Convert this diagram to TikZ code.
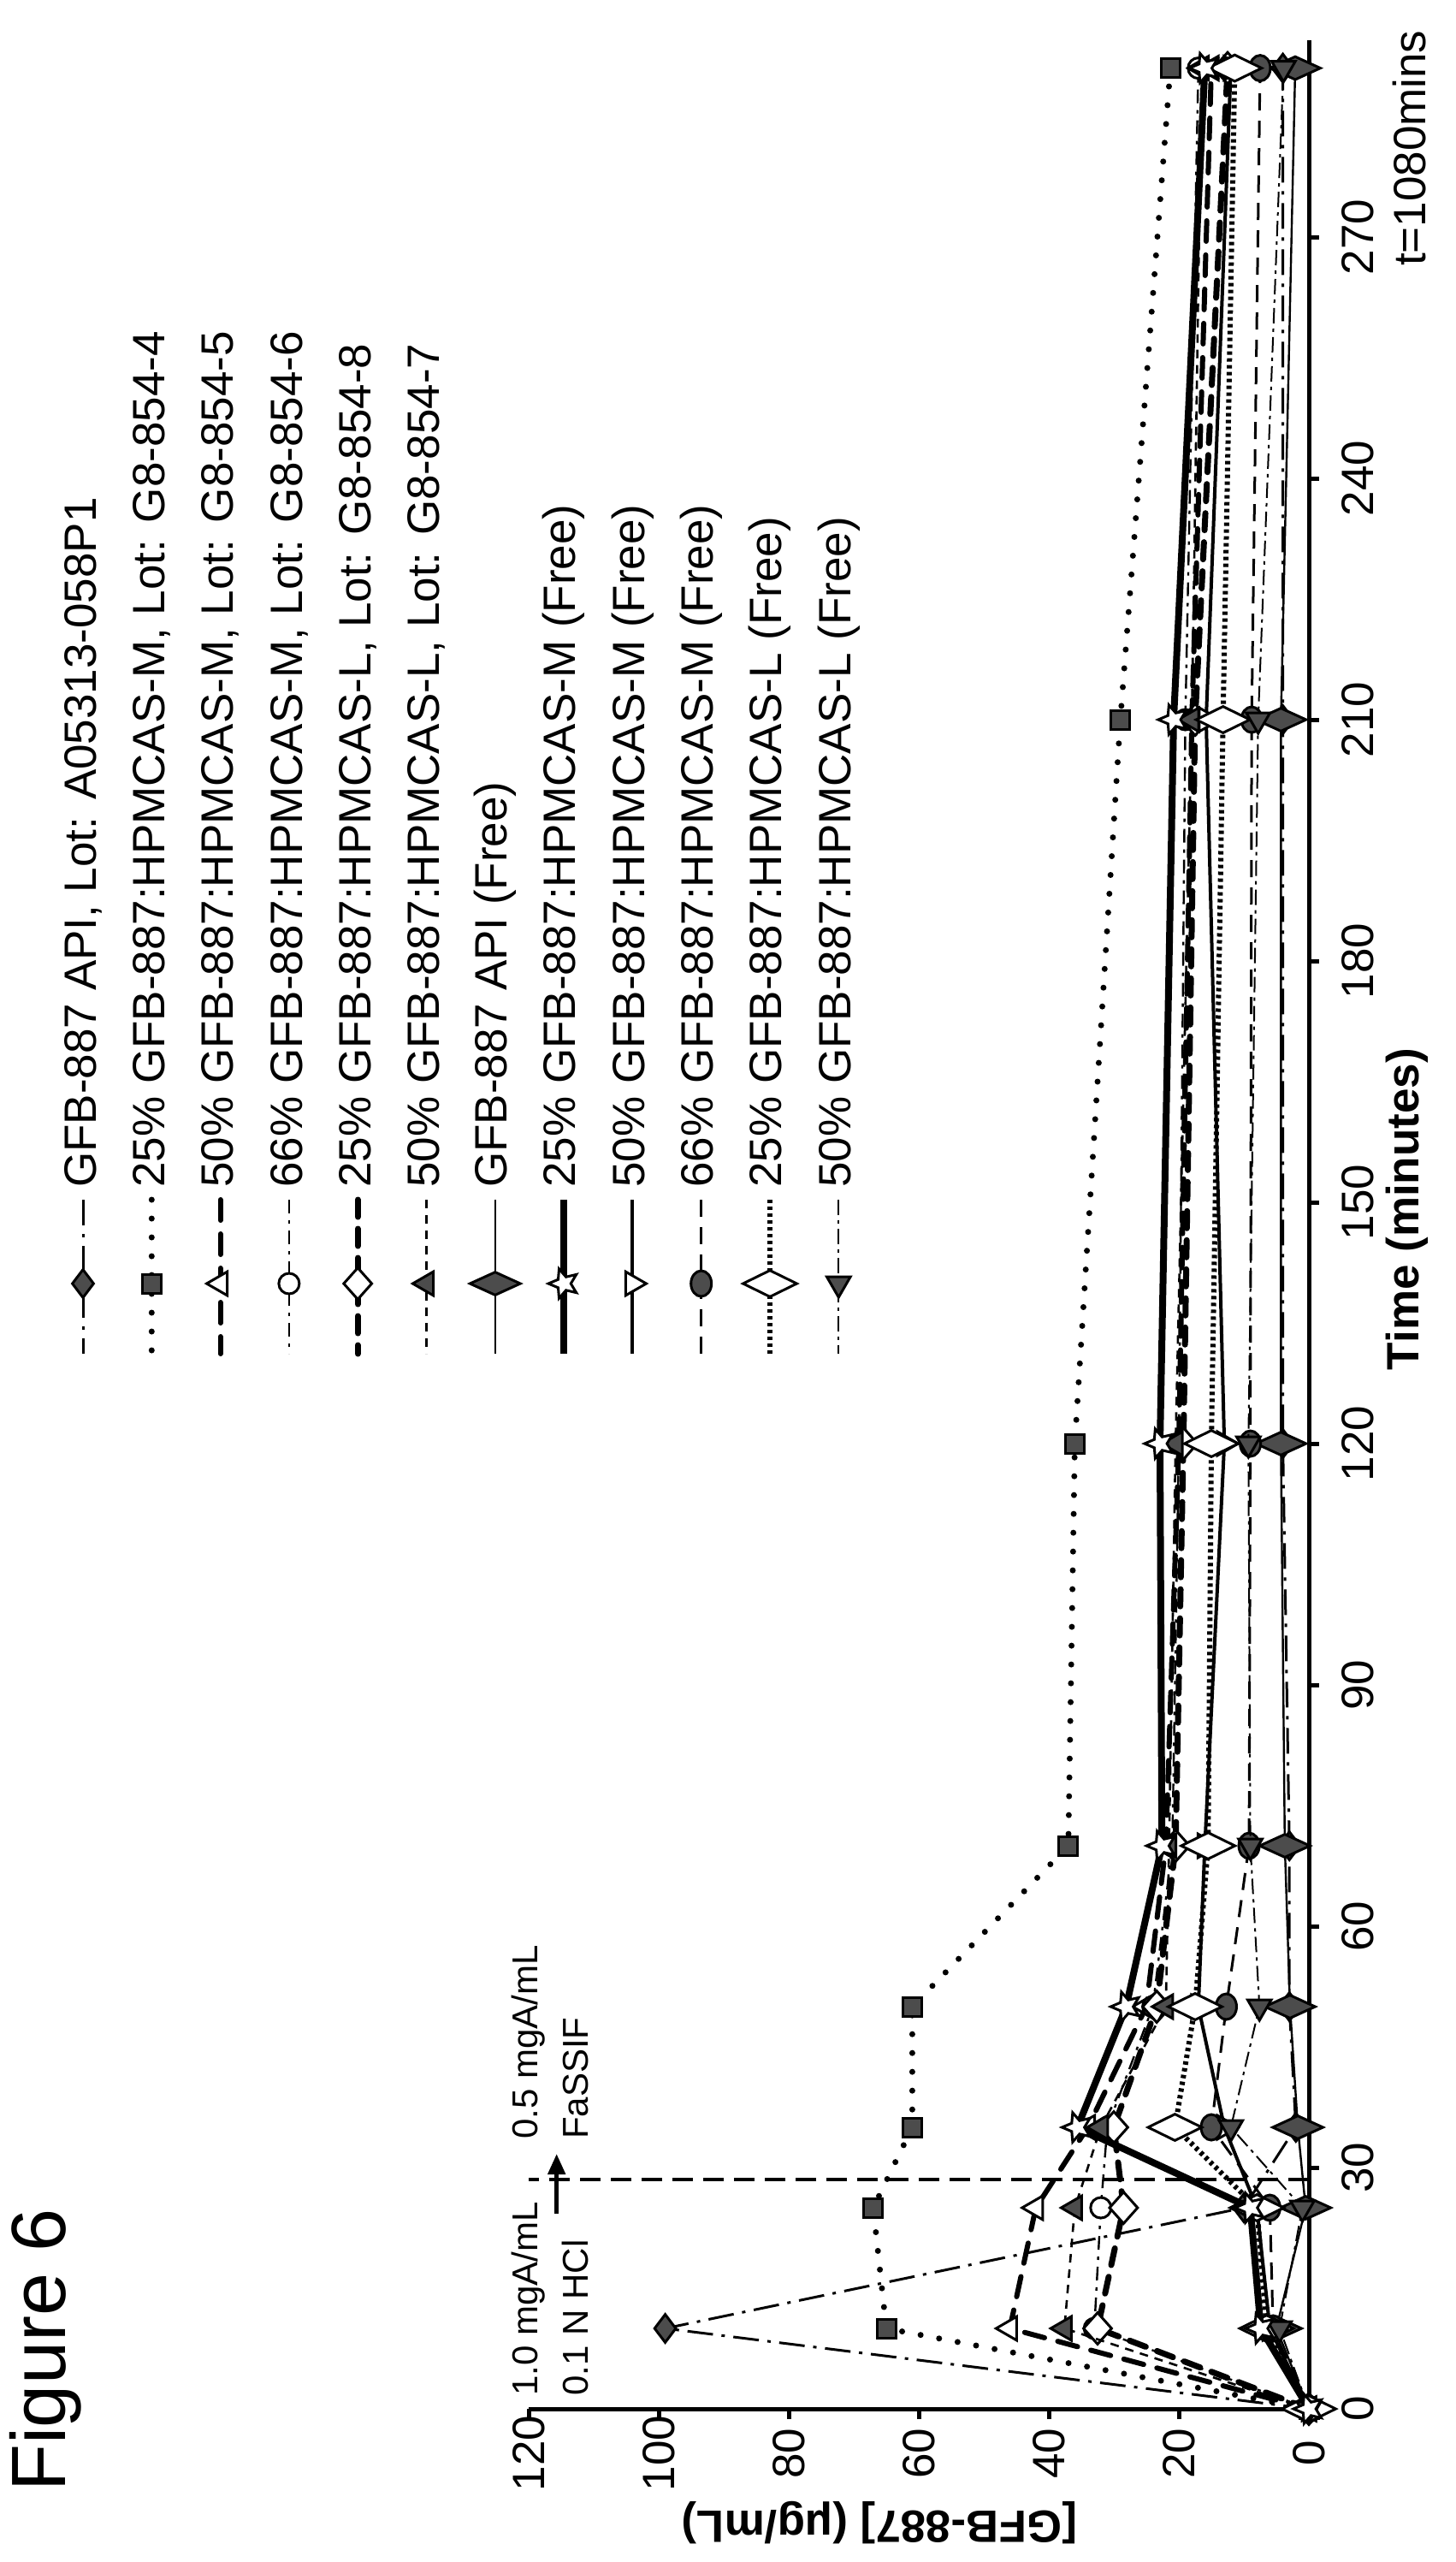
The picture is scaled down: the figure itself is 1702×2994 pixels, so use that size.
\documentclass[tikz,border=0pt]{standalone}
\usepackage{fontspec}
\setmainfont{Liberation Sans}
\usetikzlibrary{shapes.geometric,arrows.meta}

\tikzset{
  axis/.style={line width=2.5pt},
  hatch/.style={fill=black!70},
  % line styles
  s1/.style={line width=1.5pt,dash pattern=on 15pt off 5pt on 2pt off 5pt},
  s2/.style={line width=3.5pt,line cap=round,dash pattern=on 0pt off 11pt},
  s3/.style={line width=3pt,line cap=round,dash pattern=on 12pt off 8pt},
  s4/.style={line width=1.2pt,dash pattern=on 8pt off 4pt on 2pt off 4pt},
  s5/.style={line width=3.5pt,line cap=round,dash pattern=on 10pt off 7pt},
  s6/.style={line width=1.3pt,dash pattern=on 5pt off 4pt},
  s7/.style={line width=1.2pt},
  s8/.style={line width=4pt},
  s9/.style={line width=2pt},
  s10/.style={line width=1.5pt,dash pattern=on 10pt off 6pt},
  s11/.style={line width=3pt,dash pattern=on 2pt off 2pt},
  s12/.style={line width=1pt,dash pattern=on 9pt off 3pt on 2pt off 3pt},
  % markers
  mk/.style={draw,line width=1.5pt,inner sep=0pt,solid},
  k1/.style={mk,hatch,diamond,minimum width=13pt,minimum height=17pt},
  k2/.style={mk,hatch,rectangle,minimum size=11pt},
  k3/.style={mk,fill=white,regular polygon,regular polygon sides=3,shape border rotate=90,minimum size=16pt},
  k4/.style={mk,fill=white,circle,minimum size=12pt},
  k5/.style={mk,fill=white,diamond,minimum width=17pt,minimum height=19pt},
  k6/.style={mk,hatch,regular polygon,regular polygon sides=3,shape border rotate=90,minimum size=16pt},
  k7/.style={mk,hatch,diamond,minimum width=30pt,minimum height=14pt},
  k8/.style={mk,fill=white,star,star points=5,star point ratio=2.2,shape border rotate=90,minimum size=18pt},
  k9/.style={mk,fill=white,regular polygon,regular polygon sides=3,shape border rotate=-90,minimum size=16pt},
  k10/.style={mk,hatch,ellipse,minimum width=12pt,minimum height=15pt},
  k11/.style={mk,fill=white,diamond,minimum width=32pt,minimum height=16pt},
  k12/.style={mk,hatch,regular polygon,regular polygon sides=3,shape border rotate=180,minimum size=16pt},
}

% one data series: line style, marker style, list of time/conc
\newcommand\series[3]{%
  \draw[#1] (0,0) \foreach \t/\c in {#3} { -- (\t,\c) };
  \node[#2] at (0,0) {};
  \foreach \t/\c in {#3} \node[#2] at (\t,\c) {};
}

\begin{document}
\begin{tikzpicture}[x=0.5pt,y=-0.5pt,every node/.style={font=\fontsize{26.5}{30}\selectfont}]
  \useasboundingbox (0,0) rectangle (1702,2994);

  % title
  \node[rotate=90,anchor=west,font=\fontsize{45}{50}\selectfont] (fig) at (53,2919) {Figure 6};

  % axis titles
  \node[rotate=180,font=\bfseries\fontsize{26.5}{30}\selectfont] (ytitle) at (1028,2948) {[GFB-887] (μg/mL)};
  \node[rotate=90,font=\bfseries\fontsize{26.5}{30}\selectfont] (xtitle) at (1645,1413) {Time (minutes)};
  \node[rotate=90,anchor=west] (tend) at (1648,318) {t=1080mins};

  % legend
  \foreach \i/\sty/\mk/\txt in {
    0/s1/k1/{GFB-887 API, Lot: A05313-058P1},
    1/s2/k2/{25\% GFB-887:HPMCAS-M, Lot: G8-854-4},
    2/s3/k3/{50\% GFB-887:HPMCAS-M, Lot: G8-854-5},
    3/s4/k4/{66\% GFB-887:HPMCAS-M, Lot: G8-854-6},
    4/s5/k5/{25\% GFB-887:HPMCAS-L, Lot: G8-854-8},
    5/s6/k6/{50\% GFB-887:HPMCAS-L, Lot: G8-854-7},
    6/s7/k7/{GFB-887 API (Free)},
    7/s8/k8/{25\% GFB-887:HPMCAS-M (Free)},
    8/s9/k9/{50\% GFB-887:HPMCAS-M (Free)},
    9/s10/k10/{66\% GFB-887:HPMCAS-M (Free)},
    10/s11/k11/{25\% GFB-887:HPMCAS-L (Free)},
    11/s12/k12/{50\% GFB-887:HPMCAS-L (Free)}} {
    \coordinate (la\i) at (97+80.3*\i,1402);
    \coordinate (lb\i) at (97+80.3*\i,1582);
    \draw[\sty] (la\i) -- (lb\i);
    \node[\mk] (lm\i) at (97+80.3*\i,1500) {};
    \node[rotate=90,anchor=west,inner sep=0pt] (lt\i) at (97+80.3*\i,1388) {\txt};
  }

  \begin{scope}[shift={(1530,2815)},x={(0pt,4.7pt)},y={(-3.8pt,0pt)}]
    % axes
    \draw[axis] (0,120) -- (0,0) -- (294.5,0);
    \foreach \t in {0,30,...,270} {
      \draw[axis] (\t,0) -- ++(6pt,0pt);
      \node[rotate=90] at ([xshift=28.5pt]\t,0) {\t};
    }
    \foreach \c in {0,20,...,120} {
      \draw[axis] (0,\c) -- ++(0pt,-6pt);
      \node[rotate=90] at ([yshift=-26pt]0,\c) {\c};
    }

    % medium change
    \draw[line width=2pt,dash pattern=on 12pt off 6pt] (28.5,0) -- (28.5,120);
    \draw[line width=2.5pt,-{Triangle[length=12pt,width=10pt]}] (24.3,115.7) -- (31.7,115.7);
    \node[rotate=90,anchor=west,inner sep=0pt,font=\fontsize{21}{24}\selectfont] at (1.6,120) {1.0 mgA/mL};
    \node[rotate=90,anchor=west,inner sep=0pt,font=\fontsize{21}{24}\selectfont] at (1.6,112.8) {0.1 N HCl};
    \node[rotate=90,anchor=west,inner sep=0pt,font=\fontsize{21}{24}\selectfont] at (33.5,120) {0.5 mgA/mL};
    \node[rotate=90,anchor=west,inner sep=0pt,font=\fontsize{21}{24}\selectfont] at (33.5,112.8) {FaSSIF};

    % data
    \series{s2}{k2}{10/65,25/67,35/61,50/61,70/37,120/36,210/29,291/21.3}
    \series{s1}{k1}{10/99,25/10,35/2,50/3,70/3,120/4,210/4,291/4}
    \series{s3}{k3}{10/46,25/42,35/34,50/25,70/22,120/20,210/18,291/15}
    \series{s4}{k4}{10/33,25/32,35/31,50/24,70/21,120/20,210/19,291/17}
    \series{s5}{k5}{10/32.5,25/28.5,35/30,50/23.4,70/20.5,120/19.3,210/17.5,291/12.5}
    \series{s6}{k6}{10/37.6,25/36,35/32,50/22,70/21.5,120/20.5,210/18,291/16.5}
    \series{s7}{k7}{10/5,25/0.5,35/1.7,50/2.9,70/3.7,120/4.3,210/4.3,291/2.1}
    \series{s9}{k9}{10/6,25/8,35/13,50/17,70/16,120/13,210/15.8,291/12}
    \series{s10}{k10}{10/5.5,25/6,35/15,50/12.7,70/9.2,120/9,210/8.8,291/7.5}
    \series{s11}{k11}{10/6.5,25/8,35/20.6,50/17.5,70/15.5,120/15,210/13.2,291/11.4}
    \series{s12}{k12}{10/4.5,25/1,35/12,50/7.6,70/9,120/9.3,210/7.8,291/3.9}
    \series{s8}{k8}{10/7.4,25/9,35/35.6,50/28.1,70/22.6,120/22.9,210/20.8,291/16}
  \end{scope}
\end{tikzpicture}
\end{document}
